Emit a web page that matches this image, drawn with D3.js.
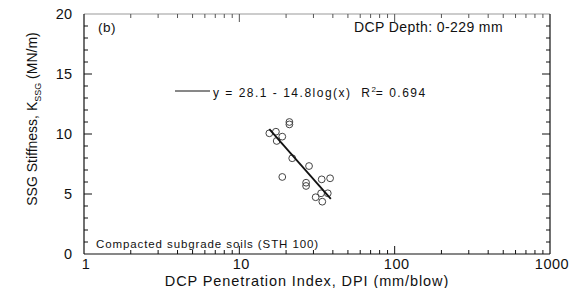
<!DOCTYPE html>
<html><head><meta charset="utf-8">
<script src="https://cdn.jsdelivr.net/npm/d3@7"></script>
<style>body{margin:0;background:#fff}svg{display:block}text{font-family:"Liberation Sans",Arial,sans-serif;fill:#111;white-space:pre}</style>
</head><body>
<svg id="c" width="574" height="288"></svg>
<script>
const dpi = [21.0, 21.0, 15.6, 17.2, 18.9, 17.4, 21.9, 28.1, 18.9, 26.9, 26.9, 33.9, 38.4, 33.6, 37.1, 31.0, 34.2];
const kssg = [11.0, 10.8, 10.06, 10.19, 9.78, 9.42, 7.98, 7.33, 6.42, 5.94, 5.67, 6.22, 6.31, 5.06, 5.06, 4.73, 4.36];
const fitX = [15.6, 38.8];
const fitY = [10.4, 4.6];
const xTicks = [1, 10, 100, 1000];
const yTicks = [0, 5, 10, 15, 20];

const svg = d3.select("#c");
const L = 84, R = 550, T = 14, B = 254;
const x = d3.scaleLog().domain([1, 1000]).range([L, R]);
const y = d3.scaleLinear().domain([0, 20]).range([B, T]);

const minorX = [];
for (let d = 1; d < 1000; d *= 10) for (let k = 2; k <= 9; k++) minorX.push(d * k);
const minorY = d3.range(0, 21, 1).filter(v => v % 5 !== 0);

const g = svg.append("g");
g.append("line").attr("x1", L).attr("x2", R).attr("y1", T).attr("y2", T).attr("stroke", "#999").attr("stroke-width", 1);
g.append("line").attr("x1", L).attr("x2", R).attr("y1", B).attr("y2", B).attr("stroke", "#111").attr("stroke-width", 1.2);
g.append("line").attr("x1", L).attr("x2", L).attr("y1", T).attr("y2", B).attr("stroke", "#111").attr("stroke-width", 1.2);
g.append("line").attr("x1", R).attr("x2", R).attr("y1", T).attr("y2", B).attr("stroke", "#111").attr("stroke-width", 1.2);

function xt(vals, len) {
  vals.forEach(v => {
    g.append("line").attr("x1", x(v)).attr("x2", x(v)).attr("y1", B).attr("y2", B - len).attr("stroke", "#111");
    g.append("line").attr("x1", x(v)).attr("x2", x(v)).attr("y1", T).attr("y2", T + len).attr("stroke", "#555");
  });
}
xt(minorX, 4); xt(xTicks.slice(1, 3), 8);
function yt(vals, len) {
  vals.forEach(v => {
    g.append("line").attr("x1", L).attr("x2", L + len).attr("y1", y(v)).attr("y2", y(v)).attr("stroke", "#111");
    g.append("line").attr("x1", R).attr("x2", R - len).attr("y1", y(v)).attr("y2", y(v)).attr("stroke", "#111");
  });
}
yt(minorY, 4); yt(yTicks.slice(1, 4), 8);

xTicks.forEach(v => g.append("text").attr("x", x(v) + 2).attr("y", 269).attr("text-anchor", "middle").attr("font-size", 14.5).attr("letter-spacing", 0.5).text(v));
yTicks.forEach(v => g.append("text").attr("x", 72).attr("y", y(v) + 4.5).attr("text-anchor", "end").attr("font-size", 14.5).text(v));

g.append("text").attr("x", 307).attr("y", 286).attr("text-anchor", "middle").attr("font-size", 14.5).attr("letter-spacing", 0.9).text("DCP Penetration Index, DPI (mm/blow)");
const yt2 = g.append("text").attr("transform", "translate(37,119) rotate(-90)").attr("text-anchor", "middle").attr("font-size", 14);
yt2.append("tspan").text("SSG Stiffness, K");
yt2.append("tspan").attr("font-size", 9).attr("dy", 4).text("SSG");
yt2.append("tspan").attr("dy", -4).text(" (MN/m)");

g.append("text").attr("x", 98).attr("y", 32).attr("font-size", 13.5).attr("letter-spacing", 0.5).text("(b)");
g.append("text").attr("x", 503).attr("y", 32).attr("text-anchor", "end").attr("font-size", 14).attr("letter-spacing", 0.4).text("DCP Depth: 0-229 mm");
g.append("line").attr("x1", 175).attr("x2", 210).attr("y1", 91).attr("y2", 91).attr("stroke", "#111").attr("stroke-width", 1);
const eq = g.append("text").attr("x", 213).attr("y", 97).attr("font-size", 12).attr("letter-spacing", 1.5);
eq.append("tspan").text("y = 28.1 - 14.8log(x)  R");
eq.append("tspan").attr("font-size", 8).attr("dy", -5).attr("letter-spacing", 0).text("2");
eq.append("tspan").attr("dy", 5).text("= 0.694");
g.append("text").attr("x", 96).attr("y", 248).attr("font-size", 11.5).attr("letter-spacing", 0.9).text("Compacted subgrade soils (STH 100)");

g.selectAll("circle.p").data(dpi.map((d, i) => [d, kssg[i]])).enter().append("circle")
  .attr("cx", d => x(d[0])).attr("cy", d => y(d[1])).attr("r", 3.4)
  .attr("fill", "none").attr("stroke", "#444").attr("stroke-width", 1);

g.append("path").datum(fitX.map((d, i) => [d, fitY[i]]))
  .attr("d", d3.line().x(d => x(d[0])).y(d => y(d[1])))
  .attr("stroke", "#111").attr("stroke-width", 1.8).attr("fill", "none");
</script>
</body></html>
